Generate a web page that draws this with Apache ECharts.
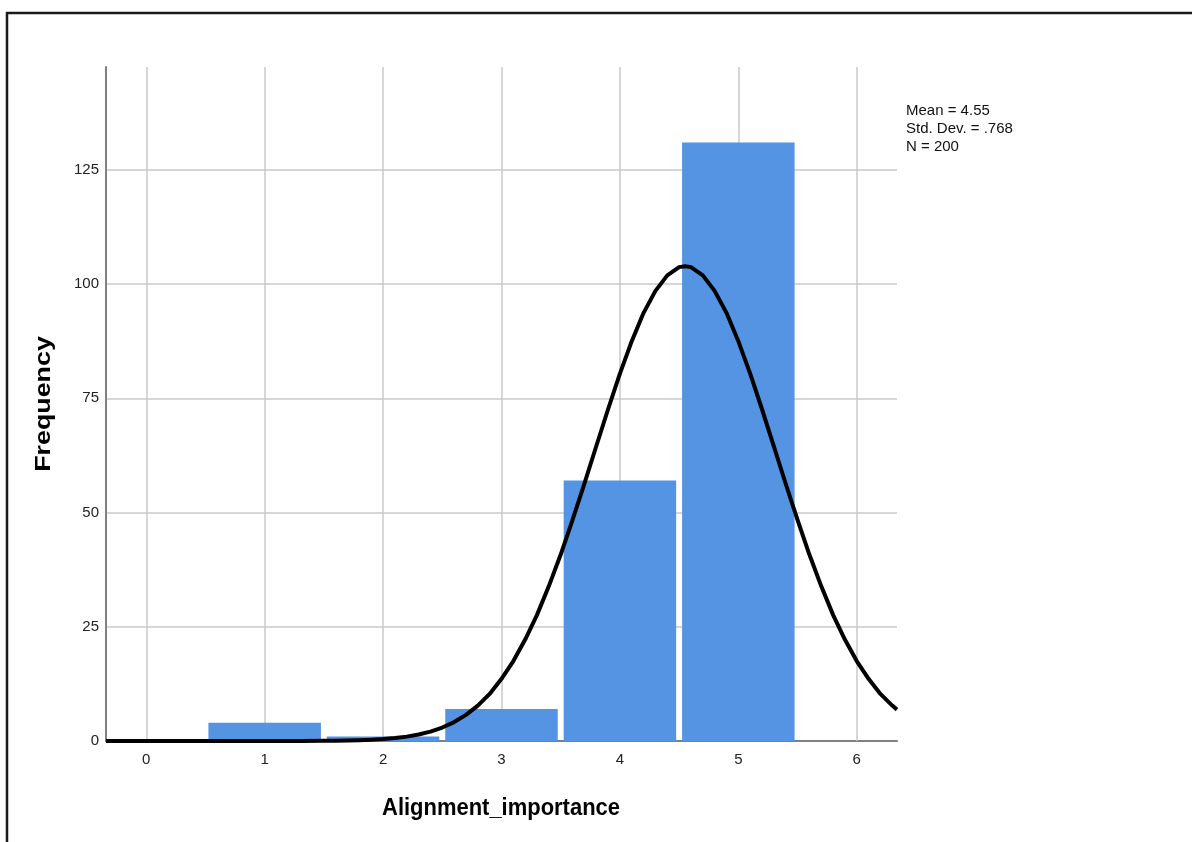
<!DOCTYPE html>
<html>
<head>
<meta charset="utf-8">
<script src="https://cdn.jsdelivr.net/npm/echarts@6/dist/echarts.min.js"></script>
<style>
html,body{margin:0;padding:0;background:#fff;}
#chart{width:1192px;height:842px;}
</style>
</head>
<body>
<div id="chart"></div>
<script>
// Histogram bins (bin centres) and frequencies
const binCenters = [1, 2, 3, 4, 5];
const frequencies = [4, 1, 7, 57, 131];

// Normal curve points
const curveX = [-0.34, 0, 0.5, 1.0, 1.3, 1.5, 1.6, 1.7, 1.8, 1.9, 2.0, 2.1, 2.2, 2.3, 2.4, 2.5, 2.6, 2.7, 2.8, 2.9,
  3.0, 3.1, 3.2, 3.3, 3.4, 3.5, 3.6, 3.7, 3.8, 3.9, 4.0, 4.1, 4.2, 4.3, 4.4, 4.5, 4.55, 4.6, 4.7, 4.8, 4.9,
  5.0, 5.1, 5.2, 5.3, 5.4, 5.5, 5.6, 5.7, 5.8, 5.9, 6.0, 6.1, 6.2, 6.3, 6.34];
const curveY = [0, 0, 0, 0, 0.01, 0.04, 0.07, 0.11, 0.17, 0.27, 0.42, 0.64, 0.96, 1.42, 2.06, 2.95, 4.14, 5.71, 7.75, 10.3,
  13.6, 17.5, 22.2, 27.6, 33.9, 40.8, 48.4, 56.3, 64.5, 72.6, 80.4, 87.5, 93.7, 98.5, 101.9, 103.7, 103.9, 103.7, 101.9, 98.5, 93.7,
  87.5, 80.4, 72.6, 64.5, 56.3, 48.4, 40.8, 33.9, 27.6, 22.2, 17.5, 13.6, 10.3, 7.75, 6.87];

// Axis tick labels
const xTicks = [0, 1, 2, 3, 4, 5, 6];
const yTicks = [0, 25, 50, 75, 100, 125];

// Stats legend
const statsLines = ['Mean = 4.55', 'Std. Dev. = .768', 'N = 200'];
const xTitle = 'Alignment_importance';
const yTitle = 'Frequency';

const FONT = '"Liberation Sans", Arial, sans-serif';
const chart = echarts.init(document.getElementById('chart'), null, {renderer: 'canvas'});

const option = {
  animation: false,
  backgroundColor: '#ffffff',
  grid: {left: 106, top: 67, right: 295, bottom: 101, containLabel: false},
  xAxis: {
    type: 'value',
    min: -0.34,
    max: 6.34,
    axisLine: {show: true, onZero: false, lineStyle: {color: '#808080', width: 2}},
    axisTick: {show: false},
    splitLine: {show: false},
    axisLabel: {
      customValues: xTicks,
      color: '#222', fontSize: 15, fontFamily: FONT, margin: 11
    }
  },
  yAxis: {
    type: 'value',
    min: 0,
    max: 147.5,
    interval: 25,
    axisLine: {show: true, onZero: false, lineStyle: {color: '#808080', width: 2}},
    axisTick: {show: false},
    axisLabel: {
      customValues: yTicks,
      color: '#222', fontSize: 15, fontFamily: FONT, margin: 7
    },
    splitLine: {show: true, showMaxLine: false, showMinLine: false, lineStyle: {color: '#c8c8c8', width: 1.5}}
  },
  series: [
    {
      type: 'line',
      data: [],
      silent: true,
      markLine: {
        silent: true,
        z: 1,
        symbol: ['none', 'none'],
        label: {show: false},
        lineStyle: {color: '#c8c8c8', width: 1.5, type: 'solid'},
        emphasis: {disabled: true},
        data: xTicks.map(v => ({xAxis: v}))
      }
    },
    {
      type: 'bar',
      z: 2,
      barWidth: '95%',
      itemStyle: {color: '#5594e3'},
      data: binCenters.map((c, i) => [c, frequencies[i]])
    },
    {
      type: 'line',
      z: 4,
      smooth: false,
      clip: true,
      showSymbol: false,
      symbol: 'none',
      lineStyle: {color: '#000', width: 4, join: 'round'},
      data: curveX.map((x, i) => [x, curveY[i]])
    }
  ],
  graphic: [
    {
      type: 'rect',
      shape: {x: 7, y: 13, width: 1300, height: 1000},
      style: {fill: 'none', stroke: '#1a1a1a', lineWidth: 2.5},
      silent: true
    },
    {
      type: 'text',
      left: 906, top: 101.5,
      style: {text: statsLines.join('\n'), font: '15px ' + FONT, fill: '#111', lineHeight: 18}
    },
    {
      type: 'text',
      x: 44, y: 404,
      rotation: Math.PI / 2,
      scaleX: 1.22,
      style: {text: yTitle, font: 'bold 22px ' + FONT, fill: '#000', align: 'center', verticalAlign: 'middle'}
    },
    {
      type: 'text',
      x: 501, y: 808,
      scaleX: 0.915,
      style: {text: xTitle, font: 'bold 24px ' + FONT, fill: '#000', align: 'center', verticalAlign: 'middle'}
    }
  ]
};
chart.setOption(option);
</script>
</body>
</html>
